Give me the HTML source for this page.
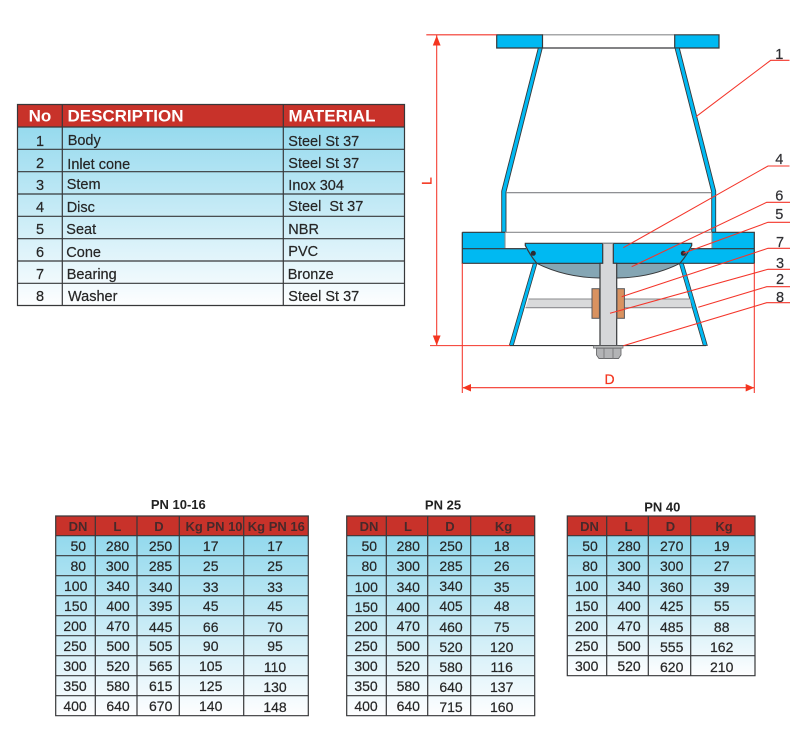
<!DOCTYPE html>
<html><head><meta charset="utf-8"><title>Check valve diagram</title>
<style>
html,body{margin:0;padding:0;background:#fff;width:798px;height:750px;overflow:hidden}
svg{display:block}
text{font-family:"Liberation Sans",sans-serif}
.t1{font-size:14.5px;fill:#262626;stroke:#262626;stroke-width:.2}
.h1{font-size:17px;font-weight:bold;fill:#fff}
.ttl{font-size:13px;font-weight:bold;fill:#222;text-anchor:middle}
.hd{font-size:13px;font-weight:bold;fill:#47292a;text-anchor:middle}
.c{font-size:14px;fill:#262626;stroke:#262626;stroke-width:.2;text-anchor:middle}
.n{font-size:14.5px;fill:#262626;stroke:#262626;stroke-width:.2;text-anchor:middle}
.lb{font-size:14.5px;fill:#2f2f33;stroke:#2f2f33;stroke-width:.2;text-anchor:middle}
.r{stroke:#f4352a;stroke-width:1.05;fill:none}
.g{stroke:#37383a;stroke-width:1.2;fill:none}
</style></head><body>
<svg width="798" height="750" viewBox="0 0 798 750" xmlns="http://www.w3.org/2000/svg">
<defs>
<linearGradient id="g1" gradientUnits="userSpaceOnUse" x1="0" y1="127" x2="0" y2="305"><stop offset="0" stop-color="#96daee"/><stop offset="1" stop-color="#fdfeff"/></linearGradient>
<linearGradient id="g2" gradientUnits="userSpaceOnUse" x1="0" y1="536" x2="0" y2="716"><stop offset="0" stop-color="#93d9ed"/><stop offset="1" stop-color="#fefeff"/></linearGradient>
<linearGradient id="g3" gradientUnits="userSpaceOnUse" x1="0" y1="536" x2="0" y2="676"><stop offset="0" stop-color="#93d9ed"/><stop offset="1" stop-color="#fefeff"/></linearGradient>
</defs>

<!-- Parts table -->
<rect x="17.5" y="127" width="387" height="178.5" fill="url(#g1)"/>
<rect x="17.5" y="104.5" width="387" height="22.5" fill="#c8322a"/>
<path class="g" d="M17.5 104.5H404.5V305.5H17.5ZM17.5 127H404.5M17.5 149.3H404.5M17.5 171.7H404.5M17.5 194H404.5M17.5 216.3H404.5M17.5 238.7H404.5M17.5 261H404.5M17.5 283.3H404.5M62.3 104.5V305.5M283.3 104.5V305.5"/>
<text class="h1" x="40" y="121.5" text-anchor="middle">No</text>
<text class="h1" x="67.5" y="121.5" textLength="116">DESCRIPTION</text>
<text class="h1" x="288.5" y="121.5" textLength="87">MATERIAL</text>
<text class="n" x="40" y="146">1</text><text class="t1" x="67.7" y="145">Body</text><text class="t1" x="288.3" y="146">Steel St 37</text>
<text class="n" x="40" y="168">2</text><text class="t1" x="67.3" y="169">Inlet cone</text><text class="t1" x="288.3" y="168">Steel St 37</text>
<text class="n" x="40" y="190">3</text><text class="t1" x="66.7" y="189">Stem</text><text class="t1" x="288.3" y="190">Inox 304</text>
<text class="n" x="40" y="212">4</text><text class="t1" x="66.7" y="212">Disc</text><text class="t1" x="288.3" y="211" xml:space="preserve" style="white-space:pre">Steel  St 37</text>
<text class="n" x="40" y="234">5</text><text class="t1" x="66.3" y="234">Seat</text><text class="t1" x="288.3" y="234">NBR</text>
<text class="n" x="40" y="257">6</text><text class="t1" x="66.3" y="257">Cone</text><text class="t1" x="288.3" y="256">PVC</text>
<text class="n" x="40" y="279">7</text><text class="t1" x="66.7" y="279">Bearing</text><text class="t1" x="287.7" y="279">Bronze</text>
<text class="n" x="40" y="301">8</text><text class="t1" x="68" y="301">Washer</text><text class="t1" x="288.3" y="301">Steel St 37</text>

<!-- Valve drawing -->
<rect x="496.7" y="34.8" width="45.8" height="13.2" fill="#00b9f2"/>
<rect x="674.7" y="34.8" width="44.3" height="13.2" fill="#00b9f2"/>
<path d="M542.5 34.8H674.7" stroke="#8a8b8e" stroke-width="1.2"/>
<path class="g" d="M496.7 34.8H542.5V48H496.7ZM674.7 34.8H719V48H674.7ZM542.5 48H674.7"/>
<path d="M538.3 48H542.3L506 192V232.3H501.7V191Z" fill="#00b9f2" stroke="#37383a" stroke-width=".9"/>
<path d="M675 48H679.3L715.7 191V232.3H711.7V192Z" fill="#00b9f2" stroke="#37383a" stroke-width=".9"/>
<path d="M506 192.7H711.7" stroke="#7f8084" stroke-width="1.2"/>

<rect x="462.3" y="232.3" width="43" height="16.4" fill="#00b9f2"/>
<rect x="711.7" y="232.3" width="42.6" height="16.4" fill="#00b9f2"/>
<rect x="462.3" y="248.7" width="76" height="14.6" fill="#00b9f2"/>
<rect x="678" y="248.7" width="76.3" height="14.6" fill="#00b9f2"/>
<path d="M505 232.3H712M505 248.7H526M691 248.7H712M505 232.3V248.7M712 232.3V248.7" stroke="#8a8b8e" stroke-width="1.1" fill="none"/>
<path class="g" d="M462.3 232.3H505M712 232.3H754.3V263.3H678M462.3 232.3V263.3H538M462.3 248.7H526M691 248.7H754.3" stroke-width="1"/>

<!-- Cone (grey) and disc -->
<path d="M536.7 263.3Q565 277.5 600 278H617Q652 277.5 680 263.3Z" fill="#85a6b4" stroke="#37383a" stroke-width=".9"/>
<path d="M525.3 243.3H691.7V245.5Q687 255 680 263.3H536.7Q530 255 525.3 245.5Z" fill="#00b9f2"/>
<path class="g" d="M525.3 243.3H691.7V245.5Q687 255 680 263.3H536.7Q530 255 525.3 245.5ZM536.7 263.3H680" stroke-width="1"/>
<circle cx="533.3" cy="253.3" r="2.5" fill="#2b2b33"/>
<circle cx="683.3" cy="253.3" r="2.5" fill="#2b2b33"/>

<!-- Lower cone -->
<path d="M533.3 263.3H537L513.3 345.5H509.3Z" fill="#00b9f2" stroke="#37383a" stroke-width=".8"/>
<path d="M679.3 263.3H683.3L707.3 345.5H703.3Z" fill="#00b9f2" stroke="#37383a" stroke-width=".8"/>

<!-- Stem cross bar -->
<path d="M528.5 299H592V307.7H525.5Z" fill="#d9dadb"/>
<path d="M624 299H690L691.7 307.7H624Z" fill="#d9dadb"/>
<path d="M528.5 299H592M525.5 307.7H592M624 299H690M624 307.7H691.7" stroke="#8a8b8e" stroke-width="1.1" fill="none"/>

<!-- Stem -->
<rect x="602.7" y="243.5" width="10.6" height="20" fill="#d6d7d9"/>
<rect x="600" y="263.3" width="16.7" height="82.3" fill="#d6d7d9"/>
<path d="M602.7 243.5V263.3H600V345.6M613.3 243.5V263.3H616.7V345.6" class="g" stroke-width="1"/>
<path d="M602.7 243.5H613.3" stroke="#8a8b8e" stroke-width="1"/>

<!-- Bearing -->
<rect x="592" y="288.7" width="7.4" height="29.6" fill="#d99260" stroke="#56565a" stroke-width="1"/>
<rect x="617" y="288.7" width="7.4" height="29.6" fill="#d99260" stroke="#56565a" stroke-width="1"/>

<path d="M510 345.6H706" stroke="#37383a" stroke-width="1.1"/>

<!-- Washer and nut -->
<rect x="593.5" y="345.7" width="29.5" height="2.4" fill="#b9babb" stroke="#67686a" stroke-width=".7"/>
<path d="M596.5 348.2H621V355L618.5 358.5H599L596.5 355Z" fill="#b3b4b6" stroke="#6a6b6d" stroke-width=".9"/>
<path d="M604 348.2V358.7M613 348.2V358.7" stroke="#77787a" stroke-width=".9"/>

<!-- Dimensions -->
<path class="r" d="M426.3 34.8H496.7M436.7 35V345M430 345.6H510M462.3 263.3V393M754.3 263.3V393M463 387.7H754"/>
<polygon points="436.7,35.5 432.8,45.5 440.6,45.5" fill="#f4351f"/>
<polygon points="436.7,345.5 432.8,335.5 440.6,335.5" fill="#f4351f"/>
<polygon points="462.5,387.7 471,384 471,391.5" fill="#f4351f"/>
<polygon points="754.2,387.7 745.7,384 745.7,391.5" fill="#f4351f"/>
<text x="609.5" y="384" font-size="14" fill="#f4351f" stroke="#f4351f" stroke-width=".25" text-anchor="middle">D</text>
<text transform="translate(431.7,185) rotate(-90)" font-size="14" fill="#f4351f" stroke="#f4351f" stroke-width=".25">L</text>

<!-- Leaders -->
<path class="r" d="M789.5 60.3H770.7L696 116.7"/>
<path class="r" d="M789.5 166H768L623.3 247.7"/>
<path class="r" d="M790 202.3H766.7L631.7 266.7"/>
<path class="r" d="M790 222.3H768L683.3 253.3"/>
<path class="r" d="M790 248.3H768L621.7 296.7"/>
<path class="r" d="M790 269.3H768L610 313.3"/>
<path class="r" d="M790 286.7H766.7L698.3 307.3"/>
<path class="r" d="M790 302.7H766.7L623.3 345.7"/>
<text class="lb" x="779.3" y="59">1</text>
<text class="lb" x="779.3" y="164">4</text>
<text class="lb" x="779.3" y="200.5">6</text>
<text class="lb" x="779.3" y="219">5</text>
<text class="lb" x="780" y="247">7</text>
<text class="lb" x="780" y="268">3</text>
<text class="lb" x="780" y="284">2</text>
<text class="lb" x="780" y="302">8</text>

<!-- Table PN 10-16 -->
<text class="ttl" x="178.3" y="509">PN 10-16</text>
<rect x="55.7" y="516" width="252.6" height="19.7" fill="#c8322a"/>
<rect x="55.7" y="535.7" width="252.6" height="180" fill="url(#g2)"/>
<path class="g" d="M55.7 516H308.3V715.7H55.7ZM55.7 535.7H308.3M55.7 555.7H308.3M55.7 575.7H308.3M55.7 595.7H308.3M55.7 615.7H308.3M55.7 635.7H308.3M55.7 655.7H308.3M55.7 675.7H308.3M55.7 695.7H308.3M95.3 516V715.7M137 516V715.7M179.3 516V715.7M243.7 516V715.7"/>
<text class="hd" x="78" y="531">DN</text><text class="hd" x="117.3" y="531">L</text><text class="hd" x="159" y="531">D</text><text class="hd" x="214" y="531">Kg PN 10</text><text class="hd" x="276.3" y="531">Kg PN 16</text>
<text class="c" x="78.3" y="551">50</text><text class="c" x="117.5" y="551">280</text><text class="c" x="160.5" y="551">250</text><text class="c" x="210.7" y="551">17</text><text class="c" x="275" y="551">17</text>
<text class="c" x="78.3" y="571">80</text><text class="c" x="117.5" y="571">300</text><text class="c" x="160.5" y="571">285</text><text class="c" x="210.7" y="571">25</text><text class="c" x="275" y="571">25</text>
<text class="c" x="75.7" y="591">100</text><text class="c" x="118" y="591">340</text><text class="c" x="160.7" y="592">340</text><text class="c" x="210.7" y="592">33</text><text class="c" x="275" y="592">33</text>
<text class="c" x="75.7" y="611">150</text><text class="c" x="118" y="611">400</text><text class="c" x="160.7" y="611">395</text><text class="c" x="210.7" y="611">45</text><text class="c" x="275" y="611">45</text>
<text class="c" x="75" y="631">200</text><text class="c" x="118" y="631">470</text><text class="c" x="160.7" y="632">445</text><text class="c" x="210.7" y="632">66</text><text class="c" x="275" y="632">70</text>
<text class="c" x="75" y="651">250</text><text class="c" x="118" y="651">500</text><text class="c" x="160.7" y="651">505</text><text class="c" x="210.7" y="651">90</text><text class="c" x="275" y="651">95</text>
<text class="c" x="75" y="671">300</text><text class="c" x="118" y="671">520</text><text class="c" x="160.7" y="671">565</text><text class="c" x="210.7" y="671">105</text><text class="c" x="275" y="672">110</text>
<text class="c" x="75" y="691">350</text><text class="c" x="118" y="691">580</text><text class="c" x="160.7" y="691">615</text><text class="c" x="210.7" y="691">125</text><text class="c" x="275" y="692">130</text>
<text class="c" x="75" y="711">400</text><text class="c" x="118" y="711">640</text><text class="c" x="160.7" y="711">670</text><text class="c" x="210.7" y="711">140</text><text class="c" x="275" y="712">148</text>

<!-- Table PN 25 -->
<text class="ttl" x="443" y="509.5">PN 25</text>
<rect x="346.7" y="516" width="188" height="19.7" fill="#c8322a"/>
<rect x="346.7" y="535.7" width="188" height="180" fill="url(#g2)"/>
<path class="g" d="M346.7 516H534.7V715.7H346.7ZM346.7 535.7H534.7M346.7 555.7H534.7M346.7 575.7H534.7M346.7 595.7H534.7M346.7 615.7H534.7M346.7 635.7H534.7M346.7 655.7H534.7M346.7 675.7H534.7M346.7 695.7H534.7M386.3 516V715.7M427.7 516V715.7M470.7 516V715.7"/>
<text class="hd" x="369" y="531">DN</text><text class="hd" x="408" y="531">L</text><text class="hd" x="450" y="531">D</text><text class="hd" x="503.5" y="531">Kg</text>
<text class="c" x="369.3" y="551">50</text><text class="c" x="408.3" y="551">280</text><text class="c" x="451" y="551">250</text><text class="c" x="501.7" y="551">18</text>
<text class="c" x="369.3" y="571">80</text><text class="c" x="408.3" y="571">300</text><text class="c" x="451" y="571">285</text><text class="c" x="501.7" y="571">26</text>
<text class="c" x="366.3" y="592">100</text><text class="c" x="408.3" y="592">340</text><text class="c" x="451" y="591">340</text><text class="c" x="501.7" y="592">35</text>
<text class="c" x="366.3" y="612">150</text><text class="c" x="408.3" y="612">400</text><text class="c" x="451" y="611">405</text><text class="c" x="501.7" y="611">48</text>
<text class="c" x="366" y="631">200</text><text class="c" x="408.3" y="631">470</text><text class="c" x="451" y="632">460</text><text class="c" x="501.7" y="632">75</text>
<text class="c" x="366" y="651">250</text><text class="c" x="408.3" y="651">500</text><text class="c" x="451" y="652">520</text><text class="c" x="501.7" y="652">120</text>
<text class="c" x="366" y="671">300</text><text class="c" x="408.3" y="671">520</text><text class="c" x="451" y="672">580</text><text class="c" x="501.7" y="672">116</text>
<text class="c" x="366" y="691">350</text><text class="c" x="408.3" y="691">580</text><text class="c" x="451" y="692">640</text><text class="c" x="501.7" y="692">137</text>
<text class="c" x="366" y="711">400</text><text class="c" x="408.3" y="711">640</text><text class="c" x="451" y="712">715</text><text class="c" x="501.7" y="712">160</text>

<!-- Table PN 40 -->
<text class="ttl" x="662.3" y="511.5">PN 40</text>
<rect x="567.3" y="516" width="187.7" height="19.7" fill="#c8322a"/>
<rect x="567.3" y="535.7" width="187.7" height="140" fill="url(#g3)"/>
<path class="g" d="M567.3 516H755V675.7H567.3ZM567.3 535.7H755M567.3 555.7H755M567.3 575.7H755M567.3 595.7H755M567.3 615.7H755M567.3 635.7H755M567.3 655.7H755M606.7 516V675.7M648.3 516V675.7M690.7 516V675.7"/>
<text class="hd" x="589.5" y="531">DN</text><text class="hd" x="628.5" y="531">L</text><text class="hd" x="670.5" y="531">D</text><text class="hd" x="724" y="531">Kg</text>
<text class="c" x="590" y="551">50</text><text class="c" x="629" y="551">280</text><text class="c" x="671.7" y="551">270</text><text class="c" x="721.7" y="551">19</text>
<text class="c" x="590" y="571">80</text><text class="c" x="629" y="571">300</text><text class="c" x="671.7" y="571">300</text><text class="c" x="721.7" y="571">27</text>
<text class="c" x="586.7" y="591">100</text><text class="c" x="629" y="591">340</text><text class="c" x="671.7" y="592">360</text><text class="c" x="721.7" y="592">39</text>
<text class="c" x="586.7" y="611">150</text><text class="c" x="629" y="611">400</text><text class="c" x="671.7" y="611">425</text><text class="c" x="721.7" y="611">55</text>
<text class="c" x="586.7" y="631">200</text><text class="c" x="629" y="631">470</text><text class="c" x="671.7" y="632">485</text><text class="c" x="721.7" y="632">88</text>
<text class="c" x="586.7" y="651">250</text><text class="c" x="629" y="651">500</text><text class="c" x="671.7" y="652">555</text><text class="c" x="721.7" y="652">162</text>
<text class="c" x="586.7" y="671">300</text><text class="c" x="629" y="671">520</text><text class="c" x="671.7" y="672">620</text><text class="c" x="721.7" y="672">210</text>
</svg>
</body></html>
